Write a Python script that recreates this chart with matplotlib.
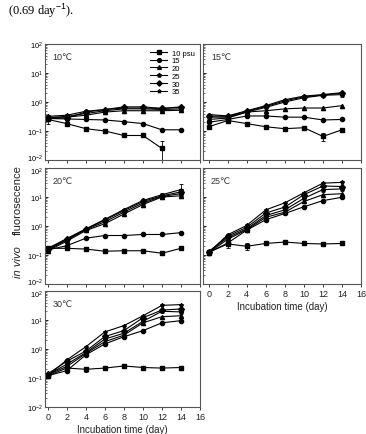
import matplotlib
matplotlib.use("Agg")
import matplotlib.pyplot as plt
from matplotlib.ticker import LogLocator, NullFormatter
from matplotlib.transforms import ScaledTranslation

plt.rcParams['font.family'] = ['Liberation Sans', 'DejaVu Sans']
plt.rcParams['mathtext.fontset'] = 'custom'
plt.rcParams['mathtext.rm'] = 'Liberation Sans'

days = [0, 2, 4, 6, 8, 10, 12, 14]
salinity_labels = ["10 psu", "15", "20", "25", "30", "35"]
markers = ['s', 'o', '^', 'p', 'D', '*']

# in vivo fluorescence, one list per salinity (10, 15, 20, 25, 30, 35 psu)
t10 = [
    [0.25, 0.18, 0.12, 0.10, 0.07, 0.07, 0.025, None],
    [0.27, 0.26, 0.25, 0.24, 0.21, 0.18, 0.11, 0.11],
    [0.30, 0.30, 0.35, 0.45, 0.50, 0.50, 0.50, 0.52],
    [0.28, 0.32, 0.40, 0.50, 0.58, 0.58, 0.55, 0.58],
    [0.27, 0.28, 0.45, 0.55, 0.68, 0.68, 0.60, 0.65],
    [0.32, 0.35, 0.48, 0.55, 0.62, 0.62, 0.60, 0.68],
]
t15 = [
    [0.14, 0.23, 0.18, 0.14, 0.12, 0.13, 0.065, 0.11],
    [0.20, 0.25, 0.33, 0.33, 0.30, 0.30, 0.24, 0.25],
    [0.25, 0.28, 0.45, 0.50, 0.58, 0.62, 0.62, 0.75],
    [0.30, 0.30, 0.45, 0.65, 1.0, 1.4, 1.7, 1.8],
    [0.33, 0.32, 0.48, 0.70, 1.1, 1.5, 1.75, 2.0],
    [0.37, 0.33, 0.50, 0.75, 1.2, 1.6, 1.8, 2.1],
]
t20 = [
    [0.17, 0.17, 0.16, 0.135, 0.14, 0.14, 0.115, 0.17],
    [0.15, 0.21, 0.38, 0.47, 0.47, 0.51, 0.51, 0.59],
    [0.14, 0.30, 0.70, 1.2, 2.6, 5.5, 10, 11],
    [0.15, 0.33, 0.75, 1.4, 3.0, 6.2, 10.5, 13],
    [0.16, 0.35, 0.78, 1.6, 3.4, 7.0, 11, 15],
    [0.17, 0.37, 0.80, 1.7, 3.7, 7.6, 12, 18],
]
t25 = [
    [0.125, 0.24, 0.20, 0.25, 0.28, 0.25, 0.24, 0.25],
    [0.12, 0.26, 0.72, 1.65, 2.7, 4.6, 7.5, 9.8],
    [0.12, 0.35, 0.75, 2.0, 3.0, 7.0, 12, 13],
    [0.13, 0.40, 0.80, 2.3, 3.6, 9.0, 18, 19],
    [0.13, 0.45, 0.90, 2.8, 4.5, 12, 24, 23],
    [0.12, 0.50, 1.05, 3.6, 6.3, 14, 30, 32],
]
t30 = [
    [0.12, 0.22, 0.20, 0.22, 0.26, 0.23, 0.22, 0.23],
    [0.12, 0.18, 0.63, 1.5, 2.65, 4.3, 8, 9.5],
    [0.13, 0.25, 0.70, 1.8, 3.0, 8, 13, 14],
    [0.13, 0.30, 0.75, 2.2, 3.5, 9, 20, 19],
    [0.14, 0.38, 0.85, 2.7, 4.3, 12, 22, 24],
    [0.12, 0.42, 1.2, 3.9, 6.4, 14, 32, 34],
]
panel_titles = ["10℃", "15℃", "20℃", "25℃", "30℃"]
panel_data = [t10, t15, t20, t25, t30]

# error bars: (salinity index, day index, error)
panel_errors = [
    [(0, 0, 0.07), (0, 6, 0.022)],
    [(0, 6, 0.02), (0, 7, 0.02), (4, 7, 0.3)],
    [(5, 7, 9), (4, 7, 4), (5, 6, 2)],
    [(0, 1, 0.06), (0, 2, 0.05)],
    [(0, 1, 0.05), (0, 2, 0.04)],
]

W, H = 366, 435
fig = plt.figure(figsize=(W / 100, H / 100), dpi=100)

# axes boxes in pixels: left, top, right, bottom
boxes = [
    (45, 45, 200, 161), (203, 45, 361, 161),
    (45, 169, 200, 285), (203, 169, 361, 285),
    (45, 292, 200, 408),
]
xlims = [(-0.3, 16), (-0.6, 16), (-0.3, 16), (-0.6, 16), (-0.3, 16)]
spine_col = '#555555'

for i, (title, data) in enumerate(zip(panel_titles, panel_data)):
    l, t, r, b = boxes[i]
    ax = fig.add_axes([l / W, 1 - b / H, (r - l) / W, (b - t) / H])
    for k, series in enumerate(data):
        xs = [d for d, v in zip(days, series) if v is not None]
        ys = [v for v in series if v is not None]
        ax.plot(xs, ys, color='black', lw=0.8, marker=markers[k], ms=3.0,
                mfc='black', mec='black', label=salinity_labels[k])
    for k, j, e in panel_errors[i]:
        ax.errorbar(days[j], data[k][j], yerr=e, fmt='none', ecolor='black',
                    elinewidth=0.6, capsize=1.5, capthick=0.6)
    ax.set_yscale('log')
    ax.set_ylim(0.01, 100)
    ax.set_xlim(*xlims[i])
    ax.set_xticks(range(0, 17, 2))
    ax.yaxis.set_major_locator(LogLocator(base=10, numticks=10))
    ax.yaxis.set_minor_locator(LogLocator(base=10, subs=range(2, 10), numticks=10))
    ax.yaxis.set_minor_formatter(NullFormatter())
    ax.tick_params(axis='x', direction='out', length=2, width=0.6,
                   labelsize=6.5, pad=1.5, colors='#222222')
    ax.tick_params(axis='y', which='major', direction='in', length=2.5, width=0.6,
                   labelsize=5.3, pad=1.5)
    ax.tick_params(axis='y', which='minor', direction='in', length=1.3, width=0.4)
    for s in ax.spines.values():
        s.set_color(spine_col)
        s.set_linewidth(0.8)
    if i % 2 == 1:
        ax.set_yticklabels([])
    else:
        # nudge the end labels apart so stacked panels don't collide
        fig.canvas.draw()
        labs = ax.get_yticklabels()
        up = ScaledTranslation(0, 2.5 / 100, fig.dpi_scale_trans)
        down = ScaledTranslation(0, -2.5 / 100, fig.dpi_scale_trans)
        for lab in labs:
            y = lab.get_position()[1]
            if abs(y - 0.01) < 1e-6 and i != 4:
                lab.set_transform(lab.get_transform() + up)
            elif abs(y - 100) < 1e-6 and i != 0:
                lab.set_transform(lab.get_transform() + down)
    if i not in (3, 4):
        ax.set_xticklabels([])
    else:
        ax.set_xlabel("Incubation time (day)", fontsize=7, labelpad=2, color='#222222')
    ax.text(0.05, 0.93, title, transform=ax.transAxes, fontsize=6.5,
            va='top', ha='left', color='#333333')
    if i == 0:
        ax.legend(loc='upper right', fontsize=5.5, frameon=False, handlelength=2.2,
                  labelspacing=0.05, handletextpad=0.6, borderaxespad=0.3,
                  markerscale=0.9)

fig.text(18 / W, 1 - 200 / H, "fluorosecence", rotation=90, fontsize=8,
         ha='center', va='center', color='#222222')
fig.text(18 / W, 1 - 262 / H, "in vivo", rotation=90, fontsize=8, style='italic',
         ha='center', va='center', color='#222222')

fig.text(8 / W, 1 - 2 / H, "(0.69 day$^{-1}$).", fontsize=9,
         family='Liberation Serif', ha='left', va='top')

fig.savefig("out.png", dpi=100)
